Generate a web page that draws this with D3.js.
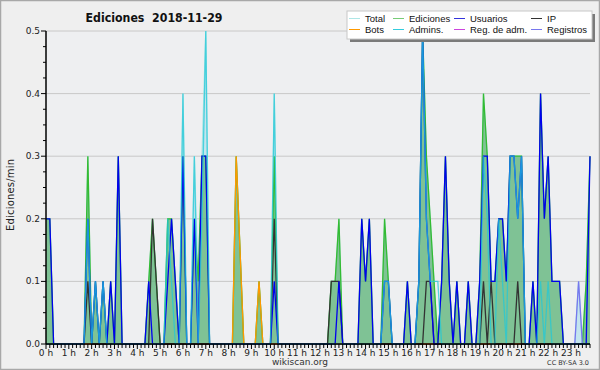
<!DOCTYPE html>
<html>
<head>
<meta charset="utf-8">
<script src="https://cdn.jsdelivr.net/npm/d3@7"></script>
<style>
  body { margin: 0; background: #efefef; }
  svg { display: block; font-family: "DejaVu Sans", Verdana, sans-serif; }
</style>
</head>
<body>
<svg id="chart" width="600" height="370"></svg>
<script>
// 10-minute bins, edits per minute (6 values per hour)
let total = [
  0.2,0.2,0,0,0,0,      0,0,0,0,0,0.3,
  0,0.1,0,0.1,0,0.1,    0,0.3,0,0,0,0,
  0,0,0,0.1,0.2,0.1,    0,0,0.2,0.2,0.1,0,
  0.4,0,0,0.3,0.1,0.3,  0.5,0,0,0,0,0,
  0,0,0.3,0.15,0,0,     0,0,0.1,0,0,0,
  0.4,0,0,0,0,0,        0,0,0,0,0,0,
  0,0,0,0.1,0.1,0.2,    0,0,0,0,0,0.2,
  0.1,0.2,0,0,0,0.2,    0.1,0,0,0,0,0.1,
  0,0,0.1,0.5,0.3,0.2,  0.1,0,0.1,0.3,0.1,0,
  0.1,0,0,0.1,0,0,      0.1,0.4,0.3,0.1,0.1,0.2,
  0.2,0.1,0.3,0.3,0.3,0.3, 0,0,0.1,0,0.4,0.2,
  0.3,0.1,0.1,0.1,0,0,  0,0,0.1,0,0.1,0.3
];
let ediciones = [
  0.2,0.2,0,0,0,0,      0,0,0,0,0,0.3,
  0,0.1,0,0.1,0,0.1,    0,0.3,0,0,0,0,
  0,0,0,0.1,0.2,0.1,    0,0,0.2,0.2,0.1,0,
  0.3,0,0,0.2,0.1,0.3,  0.3,0,0,0,0,0,
  0,0,0.3,0.15,0,0,     0,0,0.1,0,0,0,
  0.3,0,0,0,0,0,        0,0,0,0,0,0,
  0,0,0,0.1,0.1,0.2,    0,0,0,0,0,0.2,
  0.1,0.2,0,0,0,0.2,    0.1,0,0,0,0,0.1,
  0,0,0.1,0.5,0.3,0.2,  0.1,0,0.1,0.3,0.1,0,
  0.1,0,0,0.1,0,0,      0.1,0.4,0.3,0.1,0.1,0.2,
  0.2,0.1,0.3,0.3,0.3,0.3, 0,0,0.1,0,0.4,0.2,
  0.3,0.1,0.1,0.1,0,0,  0,0,0,0,0.1,0.3
];
let usuarios = [
  0.2,0.2,0,0,0,0,      0,0,0,0,0,0.2,
  0,0.1,0,0.1,0,0.1,    0,0.3,0,0,0,0,
  0,0,0,0.1,0,0,        0,0,0.1,0.2,0.1,0,
  0.3,0,0,0.2,0,0.3,    0.3,0,0,0,0,0,
  0,0,0,0,0,0,          0,0,0,0,0,0,
  0.1,0,0,0,0,0,        0,0,0,0,0,0,
  0,0,0,0,0,0.1,        0,0,0,0,0,0.2,
  0.1,0.2,0,0,0,0.1,    0.1,0,0,0,0,0.1,
  0,0,0.1,0.5,0.2,0.1,  0,0,0.1,0.3,0.1,0,
  0.1,0,0,0.1,0,0,      0.1,0.3,0.3,0.1,0.1,0.2,
  0.2,0.1,0.3,0.3,0.2,0.3, 0,0,0.1,0,0.4,0.2,
  0.3,0.1,0.1,0.1,0,0,  0,0,0,0,0,0.3
];
let ip = [
  0,0,0,0,0,0,          0,0,0,0,0,0.1,
  0,0,0,0,0,0,          0,0,0,0,0,0,
  0,0,0,0,0.2,0.1,      0,0,0,0,0,0,
  0,0,0,0,0,0,          0,0,0,0,0,0,
  0,0,0,0,0,0,          0,0,0,0,0,0,
  0.2,0,0,0,0,0,        0,0,0,0,0,0,
  0,0,0,0.1,0.1,0.1,    0,0,0,0,0,0,
  0,0,0,0,0,0,          0,0,0,0,0,0,
  0,0,0,0,0.1,0.1,      0,0,0,0,0,0,
  0,0,0,0,0,0,          0,0.1,0,0.1,0,0,
  0,0,0,0,0.1,0,        0,0,0,0,0,0,
  0,0,0,0,0,0,          0,0,0,0,0,0
];
let bots = [
  0,0,0,0,0,0,          0,0,0,0,0,0,
  0,0,0,0,0,0,          0,0,0,0,0,0,
  0,0,0,0,0,0,          0,0,0,0,0,0,
  0,0,0,0,0,0,          0,0,0,0,0,0,
  0,0,0.3,0.15,0,0,     0,0,0.1,0,0,0,
  0,0,0,0,0,0,          0,0,0,0,0,0,
  0,0,0,0,0,0,          0,0,0,0,0,0,
  0,0,0,0,0,0,          0,0,0,0,0,0,
  0,0,0,0,0,0,          0,0,0,0,0,0,
  0,0,0,0,0,0,          0,0,0,0,0,0,
  0,0,0,0,0,0,          0,0,0,0,0,0,
  0,0,0,0,0,0,          0,0,0,0,0,0
];
let admins = [
  0,0,0,0,0,0,          0,0,0,0,0,0.2,
  0,0.1,0,0.1,0,0,      0,0,0,0,0,0,
  0,0,0,0,0,0,          0,0,0.2,0.1,0,0,
  0.4,0,0,0.3,0,0.2,    0.5,0,0,0,0,0,
  0,0,0,0,0,0,          0,0,0,0,0,0,
  0.4,0,0,0,0,0,        0,0,0,0,0,0,
  0,0,0,0,0,0,          0,0,0,0,0,0,
  0,0,0,0,0,0.1,        0.1,0,0,0,0,0,
  0,0,0.1,0.5,0.2,0.1,  0.1,0.1,0,0,0,0,
  0,0,0,0,0,0,          0,0.3,0.2,0,0,0.2,
  0.1,0,0.3,0.3,0.2,0.3, 0,0,0,0,0.1,0,
  0.1,0,0,0,0,0,        0,0,0,0,0,0
];
let regAdm = new Array(144).fill(0);
let registros = [
  0,0,0,0,0,0,          0,0,0,0,0,0,
  0,0,0,0,0,0,          0,0,0,0,0,0,
  0,0,0,0,0,0,          0,0,0,0,0,0,
  0,0,0,0,0,0,          0,0,0,0,0,0,
  0,0,0,0,0,0,          0,0,0,0,0,0,
  0,0,0,0,0,0,          0,0,0,0,0,0,
  0,0,0,0,0,0,          0,0,0,0,0,0,
  0,0,0,0,0,0,          0,0,0,0,0,0,
  0,0,0,0,0,0,          0,0,0,0,0,0,
  0,0,0,0,0,0,          0,0,0,0,0,0,
  0,0,0,0,0,0,          0,0,0,0,0,0,
  0,0,0,0,0,0,          0,0,0.1,0,0,0
];
let yTicks = [0, 0.1, 0.2, 0.3, 0.4, 0.5];
let hours = d3.range(0, 24);
let legendNames = ["Total", "Ediciones", "Usuarios", "IP", "Bots", "Admins.", "Reg. de adm.", "Registros"];
let legendColors = ["#aee6e6", "#77cc77", "#3333dd", "#333333", "#ff9900", "#33ccdd", "#cc44dd", "#7777ee"];

let svg = d3.select("#chart");
let margin = {left: 46, right: 10, top: 31, bottom: 26};
let W = 600, H = 370;

// background + frame
svg.append("rect").attr("width", W).attr("height", H).attr("fill", "#efefef");
svg.append("rect").attr("x", 0.5).attr("y", 0.5).attr("width", W - 1).attr("height", H - 1)
    .attr("fill", "none").attr("stroke", "#a8a8a8").attr("stroke-width", 1.5);

let x = d3.scaleLinear().domain([0, 143]).range([margin.left, W - margin.right]);
let y = d3.scaleLinear().domain([0, 0.5]).range([H - margin.bottom, margin.top]);

svg.append("rect").attr("x", x(0)).attr("y", y(0.5)).attr("width", x(143) - x(0)).attr("height", y(0) - y(0.5))
    .attr("fill", "#eeeff1");

// grid
svg.append("g").selectAll("line").data(yTicks.filter(d => d > 0)).enter().append("line")
    .attr("x1", x(0)).attr("x2", x(143))
    .attr("y1", d => y(d)).attr("y2", d => y(d))
    .attr("stroke", "#c8c8c8").attr("stroke-width", 1);

let area = d3.area().x((d, i) => x(i)).y0(y(0)).y1(d => y(d));
let line = d3.line().x((d, i) => x(i)).y(d => y(d));

svg.append("path").attr("d", area(total)).attr("fill", "rgba(160,220,235,0.55)");
svg.append("path").attr("d", line(total)).attr("fill", "none").attr("stroke", "#a8e4e4").attr("stroke-width", 1.2);
svg.append("path").attr("d", area(ediciones)).attr("fill", "rgba(60,160,60,0.5)");
svg.append("path").attr("d", line(ediciones)).attr("fill", "none").attr("stroke", "#33bb33").attr("stroke-width", 1.3);

let lineSeries = [
    {data: registros, color: "#7777ee"},
    {data: regAdm, color: "#cc44dd"},
    {data: bots, color: "#ff9900"},
    {data: ip, color: "#333333"},
    {data: usuarios, color: "#0000ee"},
    {data: admins, color: "#22c8d8"}
];
lineSeries.forEach(s => {
    svg.append("path").attr("d", line(s.data)).attr("fill", "none")
        .attr("stroke", s.color).attr("stroke-width", 1.3).attr("stroke-opacity", s.data === admins ? 0.75 : 1);
});

// y axis
let yAxis = svg.append("g");
yAxis.append("line").attr("x1", x(0)).attr("x2", x(0)).attr("y1", y(0)).attr("y2", y(0.5))
    .attr("stroke", "#000").attr("stroke-width", 1.5);
yAxis.selectAll(".minor").data(d3.range(0, 21)).enter().append("line")
    .attr("x1", x(0)).attr("x2", d => d % 4 === 0 ? x(0) - 5 : x(0) - 3)
    .attr("y1", d => y(d * 0.025)).attr("y2", d => y(d * 0.025))
    .attr("stroke", "#000").attr("stroke-width", 1);
yAxis.selectAll("text").data(yTicks).enter().append("text")
    .attr("x", x(0) - 6).attr("y", d => y(d) + 3)
    .attr("text-anchor", "end").attr("font-size", 9).attr("fill", "#222")
    .text(d => d.toFixed(1));

// x axis
let xAxis = svg.append("g");
xAxis.append("line").attr("x1", x(0)).attr("x2", x(143)).attr("y1", y(0)).attr("y2", y(0))
    .attr("stroke", "#000").attr("stroke-width", 1.5);
xAxis.selectAll(".tick").data(d3.range(0, 144)).enter().append("line")
    .attr("x1", d => x(d)).attr("x2", d => x(d))
    .attr("y1", y(0)).attr("y2", d => d % 6 === 0 ? y(0) + 5 : y(0) + 4)
    .attr("stroke", "#000").attr("stroke-width", 1);
xAxis.selectAll("text").data(hours).enter().append("text")
    .attr("x", d => x(d * 6)).attr("y", y(0) + 12)
    .attr("text-anchor", "middle").attr("font-size", 9).attr("fill", "#222")
    .text(d => d + " h");

// titles
svg.append("text").attr("x", 154).attr("y", 22).attr("text-anchor", "middle")
    .attr("font-size", 12.5).attr("font-weight", "bold").attr("fill", "#111")
    .attr("textLength", 137).attr("lengthAdjust", "spacingAndGlyphs")
    .text("Ediciones\u00a0\u00a02018-11-29");
svg.append("text").attr("transform", "translate(14,195) rotate(-90)").attr("text-anchor", "middle")
    .attr("font-size", 10).attr("fill", "#222").attr("textLength", 72)
    .text("Ediciones/min");
svg.append("text").attr("x", 300).attr("y", 365).attr("text-anchor", "middle")
    .attr("font-size", 9).attr("fill", "#333").text("wikiscan.org");
svg.append("text").attr("x", 589).attr("y", 365).attr("text-anchor", "end")
    .attr("font-size", 6.5).attr("fill", "#333").text("CC BY-SA 3.0");

// legend
let lg = svg.append("g");
lg.append("rect").attr("x", 350).attr("y", 14).attr("width", 245).attr("height", 28).attr("fill", "#7a7a7a");
lg.append("rect").attr("x", 347).attr("y", 11).attr("width", 245).attr("height", 28)
    .attr("fill", "#fff").attr("stroke", "#c8c8c8").attr("stroke-width", 1);
let colX = [348, 392, 453, 530];
let items = lg.selectAll(".item").data(legendNames).enter().append("g")
    .attr("transform", (d, i) => `translate(${colX[i % 4]},${i < 4 ? 18.5 : 29.5})`);
items.append("line").attr("x1", 1).attr("x2", 12).attr("y1", 0).attr("y2", 0)
    .attr("stroke", (d, i) => legendColors[i]).attr("stroke-width", 1);
items.append("text").attr("x", 17).attr("y", 3.2).attr("font-size", 9.5).attr("fill", "#111")
    .attr("font-family", "'Liberation Sans', Arial, sans-serif")
    .text(d => d);
</script>
</body>
</html>
